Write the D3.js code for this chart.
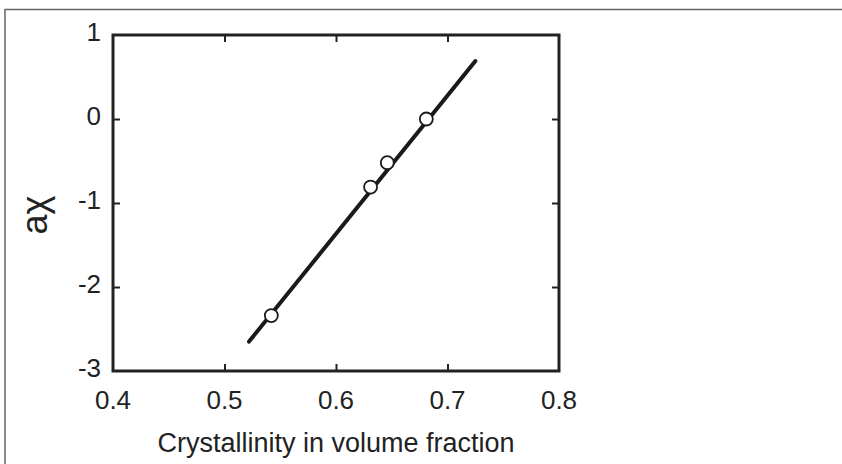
<!DOCTYPE html>
<html>
<head>
<meta charset="utf-8">
<script src="https://cdn.jsdelivr.net/npm/d3@7"></script>
<style>
  body { margin: 0; background: #fff; }
  svg { display: block; }
  text { font-family: "Liberation Sans", Arial, sans-serif; fill: #222; }
</style>
</head>
<body>
<div id="chart"></div>
<script>
// measured points (crystallinity, a_chi)
var xVals = [0.542, 0.631, 0.646, 0.681];
var yVals = [-2.34, -0.81, -0.52, 0.0];
// fitted line end points
var fitX = [0.522, 0.725];
var fitY = [-2.65, 0.69];
var xTicks = [0.4, 0.5, 0.6, 0.7, 0.8];
var yTicks = [-3, -2, -1, 0, 1];

var W = 842, H = 464;
var margin = {top: 35, right: 283, bottom: 93, left: 113},
    width = W - margin.left - margin.right,
    height = H - margin.top - margin.bottom;

var svg = d3.select("#chart").append("svg")
    .attr("width", W)
    .attr("height", H);

// page frame lines
svg.append("path")
    .attr("d", "M5,464V9.5H842")
    .attr("fill", "none")
    .attr("stroke", "#666")
    .attr("stroke-width", 1.5);

var g = svg.append("g")
    .attr("transform", "translate(" + margin.left + "," + margin.top + ")");

var x = d3.scaleLinear().domain([0.4, 0.8]).range([0, width]);
var y = d3.scaleLinear().domain([-3, 1]).range([height, 0]);

// inward ticks on all four sides
function styleAxis(sel) {
  sel.select(".domain").remove();
  sel.selectAll(".tick line").attr("stroke", "#222").attr("stroke-width", 2);
}
var inner = function(v, i, arr) { return ""; };
var xIn = xTicks.slice(1, -1), yIn = yTicks.slice(1, -1);

g.append("g").attr("transform", "translate(0," + height + ")")
  .call(d3.axisTop(x).tickValues(xIn).tickSize(7).tickFormat(inner)).call(styleAxis);
g.append("g")
  .call(d3.axisBottom(x).tickValues(xIn).tickSize(7).tickFormat(inner)).call(styleAxis);
g.append("g")
  .call(d3.axisRight(y).tickValues(yIn).tickSize(7).tickFormat(inner)).call(styleAxis);
g.append("g").attr("transform", "translate(" + width + ",0)")
  .call(d3.axisLeft(y).tickValues(yIn).tickSize(7).tickFormat(inner)).call(styleAxis);

// tick labels
g.append("g").selectAll("text").data(xTicks).enter().append("text")
    .attr("x", function(d) { return x(d); })
    .attr("y", height + 38)
    .attr("text-anchor", "middle")
    .style("font-size", "26px")
    .text(function(d) { return d3.format(".1f")(d); });

g.append("g").selectAll("text").data(yTicks).enter().append("text")
    .attr("x", -12)
    .attr("y", function(d) { return y(d) + 6; })
    .attr("text-anchor", "end")
    .style("font-size", "26px")
    .text(function(d) { return d; });

// box
g.append("rect")
    .attr("width", width).attr("height", height)
    .attr("fill", "none").attr("stroke", "#222").attr("stroke-width", 3);

// fit line
var fit = fitX.map(function(d, i) { return [d, fitY[i]]; });
g.append("path")
    .datum(fit)
    .attr("d", d3.line().x(function(d) { return x(d[0]); }).y(function(d) { return y(d[1]); }))
    .attr("stroke", "#1a1a1a").attr("stroke-width", 4).attr("stroke-linecap", "round")
    .attr("fill", "none");

// data points
var pts = xVals.map(function(d, i) { return {x: d, y: yVals[i]}; });
g.append("g").selectAll("circle").data(pts).enter().append("circle")
    .attr("cx", function(d) { return x(d.x); })
    .attr("cy", function(d) { return y(d.y); })
    .attr("r", 6.5)
    .attr("fill", "#fff")
    .attr("stroke", "#1a1a1a")
    .attr("stroke-width", 1.8);

// axis titles
svg.append("text")
    .attr("x", margin.left + width / 2)
    .attr("y", 452)
    .attr("text-anchor", "middle")
    .style("font-size", "27px")
    .text("Crystallinity in volume fraction");

svg.append("text")
    .attr("transform", "translate(47,215) rotate(-90)")
    .attr("text-anchor", "middle")
    .style("font-size", "36px")
    .text("aχ");
</script>
</body>
</html>
